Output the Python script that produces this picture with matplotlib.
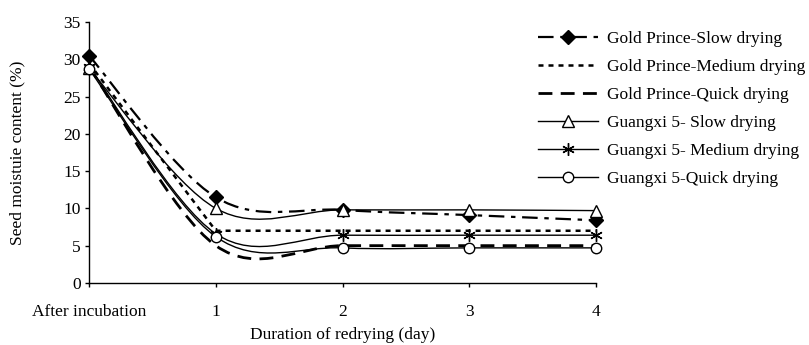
import numpy as np
import matplotlib.pyplot as plt
from matplotlib.path import Path
from matplotlib.patches import PathPatch
from matplotlib.lines import Line2D

plt.rcParams['font.family'] = ['Liberation Serif', 'DejaVu Serif']
plt.rcParams['font.size'] = 12.5

days = [0, 1, 2, 3, 4]
day_labels = ['After incubation', '1', '2', '3', '4']

gp_slow = [30.5, 11.5, 9.8, 9.1, 8.4]
gp_medium = [29.5, 7.0, 7.0, 7.0, 7.0]
gp_quick = [29.0, 5.0, 5.0, 5.0, 5.0]
g5_slow = [28.8, 10.0, 9.8, 9.8, 9.7]
g5_medium = [29.0, 6.6, 6.4, 6.4, 6.4]
g5_quick = [28.7, 6.2, 4.7, 4.7, 4.7]

labels = ['Gold Prince-Slow drying', 'Gold Prince-Medium drying',
          'Gold Prince-Quick drying', 'Guangxi 5- Slow drying',
          'Guangxi 5- Medium drying', 'Guangxi 5-Quick drying']


def smooth_path(x, y):
    # excel style smoothed line: cubic bezier, control points at 1/6 of neighbour diff
    pts = np.column_stack([x, y]).astype(float)
    n = len(pts)
    verts = [pts[0]]
    codes = [Path.MOVETO]
    for i in range(n - 1):
        p0 = pts[max(i - 1, 0)]
        p1 = pts[i]
        p2 = pts[i + 1]
        p3 = pts[min(i + 2, n - 1)]
        c1 = p1 + (p2 - p0) / 6
        c2 = p2 - (p3 - p1) / 6
        verts += [c1, c2, p2]
        codes += [Path.CURVE4] * 3
    return Path(verts, codes)


fig = plt.figure(figsize=(8.09, 3.45), dpi=100)
ax = fig.add_axes([0.110, 0.180, 0.627, 0.756])

styles = [
    dict(y=gp_slow, ls=(0, (7, 3, 2, 3)), lw=1.6, marker='D', mfc='black', ms=7, smooth=True),
    dict(y=gp_medium, ls=(0, (2, 2)), lw=1.8, marker=None, mfc='none', ms=0, smooth=False),
    dict(y=gp_quick, ls=(0, (5, 3)), lw=2.0, marker=None, mfc='none', ms=0, smooth=True),
    dict(y=g5_slow, ls='-', lw=1.0, marker='^', mfc='white', ms=9, smooth=True),
    dict(y=g5_medium, ls='-', lw=1.0, marker=(6, 2, 0), mfc='none', ms=9, smooth=True),
    dict(y=g5_quick, ls='-', lw=1.0, marker='o', mfc='white', ms=7.5, smooth=True),
]

handles = []
for s, lab in zip(styles, labels):
    if s['smooth']:
        patch = PathPatch(smooth_path(days, s['y']), fill=False, edgecolor='black',
                          linewidth=s['lw'], linestyle=s['ls'], zorder=2)
        ax.add_patch(patch)
    else:
        ax.plot(days, s['y'], color='black', lw=s['lw'], ls=s['ls'], zorder=2)
    if s['marker'] is not None:
        ax.plot(days, s['y'], ls='none', marker=s['marker'], ms=s['ms'],
                mfc=s['mfc'], mec='black', mew=1.0, zorder=3, clip_on=False)
    handles.append(Line2D([], [], color='black', lw=s['lw'], ls=s['ls'],
                          marker=s['marker'], ms=s['ms'], mfc=s['mfc'],
                          mec='black', mew=1.0))

ax.set_xlim(0, 4)
ax.set_ylim(0, 35)
ax.set_yticks(np.arange(0, 36, 5))
ax.set_xticks(days)
ax.set_xticklabels(day_labels)
ax.tick_params(axis='x', direction='out', length=3, pad=12, width=1)
ax.tick_params(axis='y', direction='out', length=3, pad=3, width=1)
for side in ['top', 'right']:
    ax.spines[side].set_visible(False)
ax.spines['left'].set_linewidth(1)
ax.spines['bottom'].set_linewidth(1)

ax.set_xlabel('Duration of redrying (day)', labelpad=5)
ax.set_ylabel('Seed moistuie content (%)')
ax.yaxis.set_label_coords(-0.125, 0.5)

fig.legend(handles, labels, loc='upper left', bbox_to_anchor=(0.646, 0.955),
           frameon=False, handlelength=3.45, handletextpad=0.5, labelspacing=0.68,
           fontsize=12.5)

fig.savefig('out.png', dpi=100)
